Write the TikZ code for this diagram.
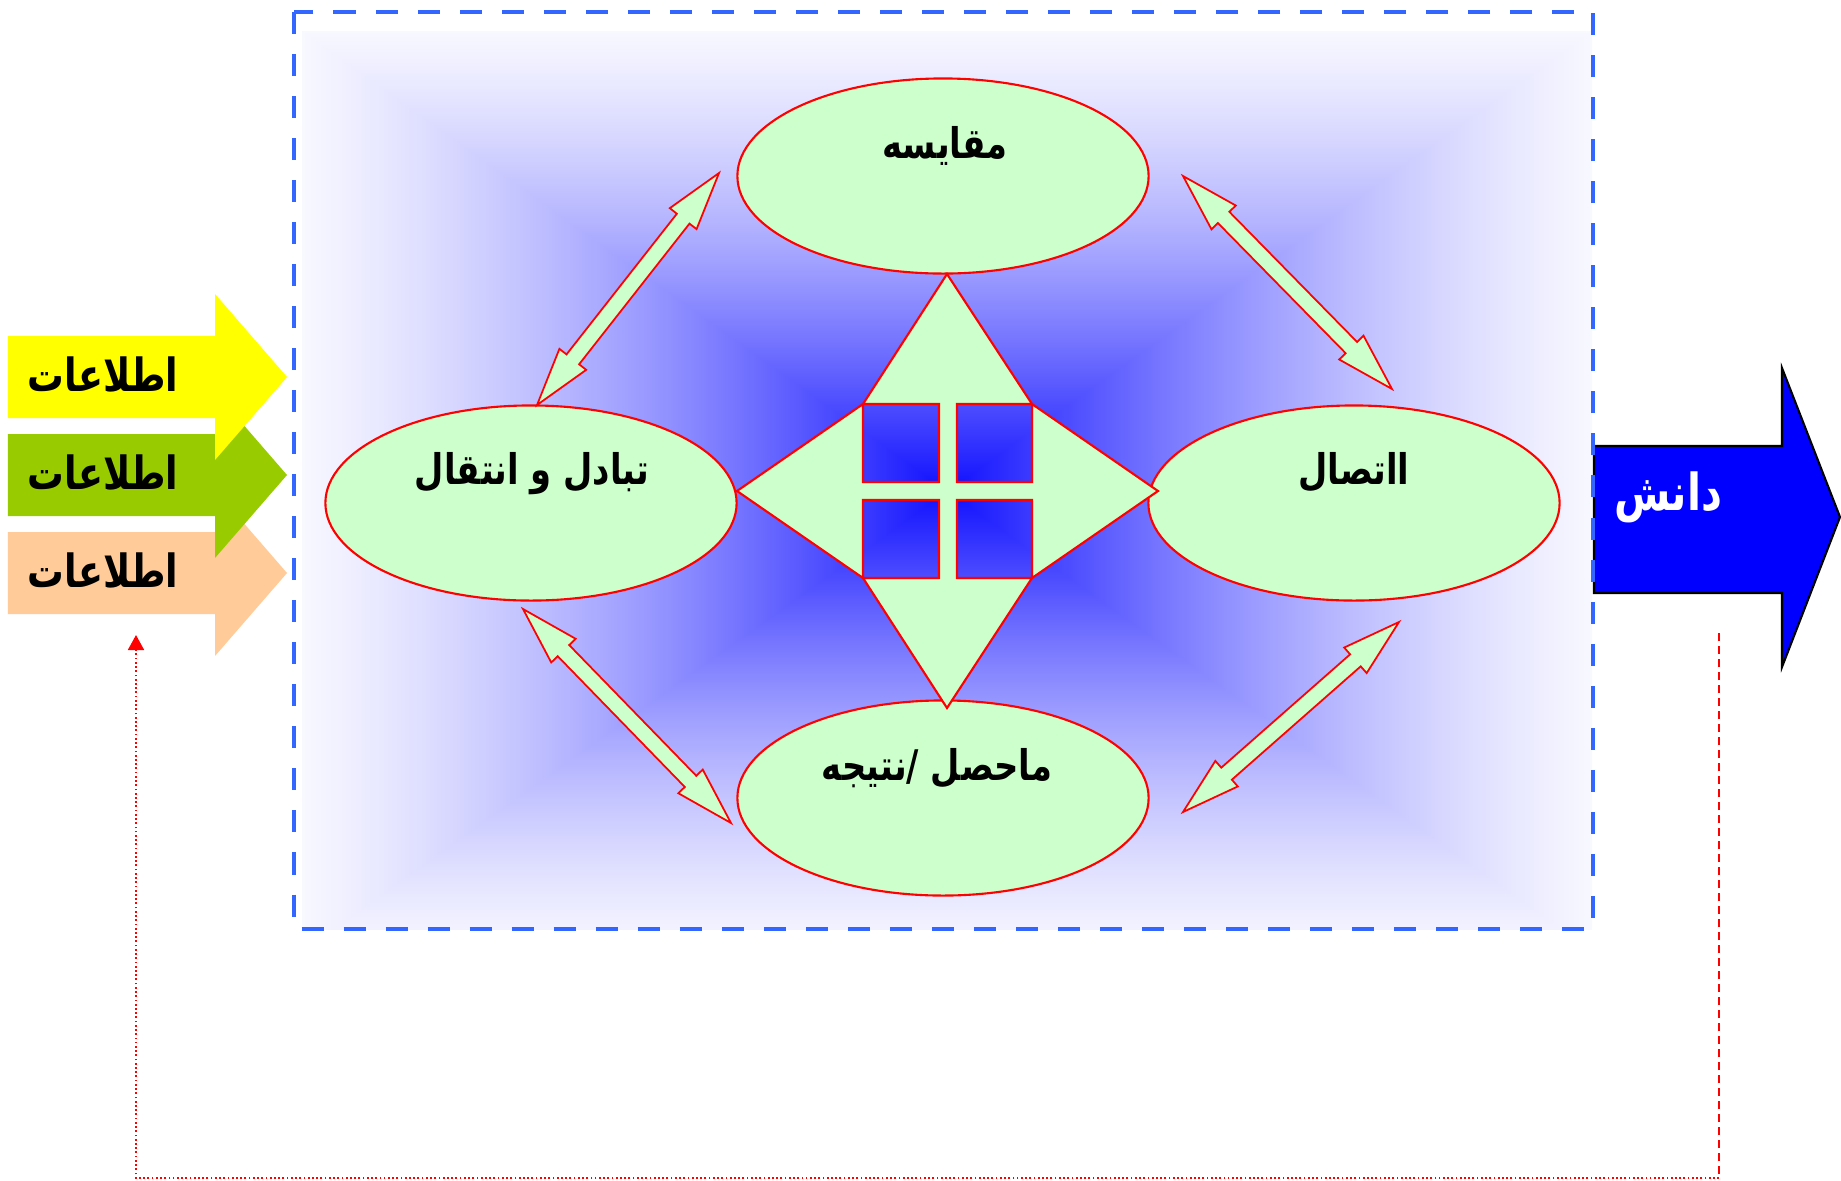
\documentclass[tikz,border=0pt]{standalone}
\usepackage{fontspec}
\newfontfamily\fafont[Script=Arabic,FakeStretch=0.8]{DejaVu Sans}
\TeXXeTstate=1
\usetikzlibrary{arrows.meta,calc,shapes.geometric}

\definecolor{mint}{RGB}{204,255,204}
\definecolor{frame}{RGB}{51,102,255}
\definecolor{inyellow}{RGB}{255,255,0}
\definecolor{ingreen}{RGB}{153,204,0}
\definecolor{inpeach}{RGB}{255,204,153}
\definecolor{outblue}{RGB}{0,0,255}

% blue glow, darkest in the middle, fading to the edge of a box
\pgfdeclarefunctionalshading{boxglow}{\pgfpointorigin}{\pgfpoint{100bp}{100bp}}{}{
  50 sub abs exch 50 sub abs
  2 copy lt {exch} if pop
  25 div dup 1 gt {pop 1} if
  dup 0.5 mul 1.5 exch sub mul
  0.9137 mul 0.0588 add
  dup 1
}

\tikzset{
  idea/.style  ={ellipse,draw=red,fill=mint,line width=0.6pt,minimum width=4.11cm,minimum height=1.95cm,inner sep=0pt},
  txt/.style   ={font=\fafont\bfseries\fontsize{12}{14}\selectfont,inner sep=0pt},
  big/.style   ={font=\fafont\bfseries\fontsize{13}{15}\selectfont},
  twoway/.style={draw=red,fill=mint,line width=0.5pt},
  frm/.style   ={draw=frame,line width=1.4pt,dash pattern=on 0.22cm off 0.2cm},
  back/.style  ={red,line width=0.5pt},
}

% block arrow with two heads, from #1 to #2
\newcommand\twowayarrow[2]{%
  \filldraw[twoway] (#1)
    -- ($(#1)!0.58cm!(#2)!0.17cm!90:(#2)$) -- ($(#1)!0.58cm!(#2)!0.08cm!90:(#2)$)
    -- ($(#2)!0.58cm!(#1)!0.08cm!-90:(#1)$) -- ($(#2)!0.58cm!(#1)!0.17cm!-90:(#1)$)
    -- (#2)
    -- ($(#2)!0.58cm!(#1)!0.17cm!90:(#1)$) -- ($(#2)!0.58cm!(#1)!0.08cm!90:(#1)$)
    -- ($(#1)!0.58cm!(#2)!0.08cm!-90:(#2)$) -- ($(#1)!0.58cm!(#2)!0.17cm!-90:(#2)$)
    -- cycle;}

\begin{document}
\begin{tikzpicture}[x=0.01cm,y=-0.01cm]
  \useasboundingbox (0,0) rectangle (1841,1181);
  \fill[white] (0,0) rectangle (1841,1181);
  % glow behind the process
  \begin{scope}
    \clip (294,12) rectangle (1593,929);
    \shade[shading=boxglow] (302,31) rectangle (1592,951);
  \end{scope}
  % four steps
  \node[idea] (cmp) at (943,176) {};
  \node[idea] (xch) at (531,503) {};
  \node[idea] (lnk) at (1354,503) {};
  \node[idea] (res) at (943,798) {};
  \node[txt] (cmp-t) at (945,146) {\beginR مقایسه\endR};
  \node[txt] (xch-t) at (532,474) {\beginR تبادل و انتقال\endR};
  \node[txt] (lnk-t) at (1354,472) {\beginR ااتصال\endR};
  \node[txt] (res-t) at (937,768) {\beginR ماحصل /نتیجه\endR};
  % star with four windows
  \filldraw[draw=red,fill=mint,line width=0.6pt,even odd rule]
    (947,274) -- (1032,404) -- (1158,491) -- (1032,578) -- (947,708) -- (863,578) -- (737,491) -- (863,404) -- cycle
    (863,404) rectangle (939,482) (957,404) rectangle (1032,482)
    (863,500) rectangle (939,578) (957,500) rectangle (1032,578);
  % links between steps
  \foreach \i/\a/\b in {1/{537,405}/{719,173},2/{1183,176}/{1392,389},3/{523,609}/{731,823},4/{1183,812}/{1399,622}}{
    \coordinate (p\i) at (\a); \coordinate (q\i) at (\b);
    \twowayarrow{p\i}{q\i}
  }
  % inputs
  \foreach \c/\y/\n in {inpeach/573/3,ingreen/475/2,inyellow/377/1}{
    \fill[\c] (8,\y-41) -- (215,\y-41) -- (215,\y-83) -- (287,\y) -- (215,\y+83) -- (215,\y+41) -- (8,\y+41) -- cycle;
    \node[txt,big] (in\n) at (103,\y-3) {\beginR اطلاعات\endR};
  }
  % output
  \filldraw[fill=outblue,draw=black,line width=0.6pt] (1594,446) -- (1782,446) -- (1782,368) -- (1840,517)
    -- (1782,667) -- (1782,593) -- (1594,593) -- cycle;
  \node[txt,white,font=\fafont\bfseries\fontsize{14.5}{16}\selectfont] (know) at (1668,497) {\beginR دانش\endR};
  \draw[frm] (294,12) rectangle (1593,929);
  % feedback
  \coordinate (fb1) at (1719,633);
  \coordinate (fb2) at (1719,1178);
  \coordinate (fb3) at (136,1178);
  \coordinate (fb4) at (136,635);
  \draw[back,dash pattern=on 0.08cm off 0.05cm] (fb1) -- (fb2);
  \draw[back,dash pattern=on 0.5pt off 0.7pt,-{Triangle[length=0.15cm,width=0.16cm]}] (fb2) -- (fb3) -- (fb4);
\end{tikzpicture}
\end{document}
